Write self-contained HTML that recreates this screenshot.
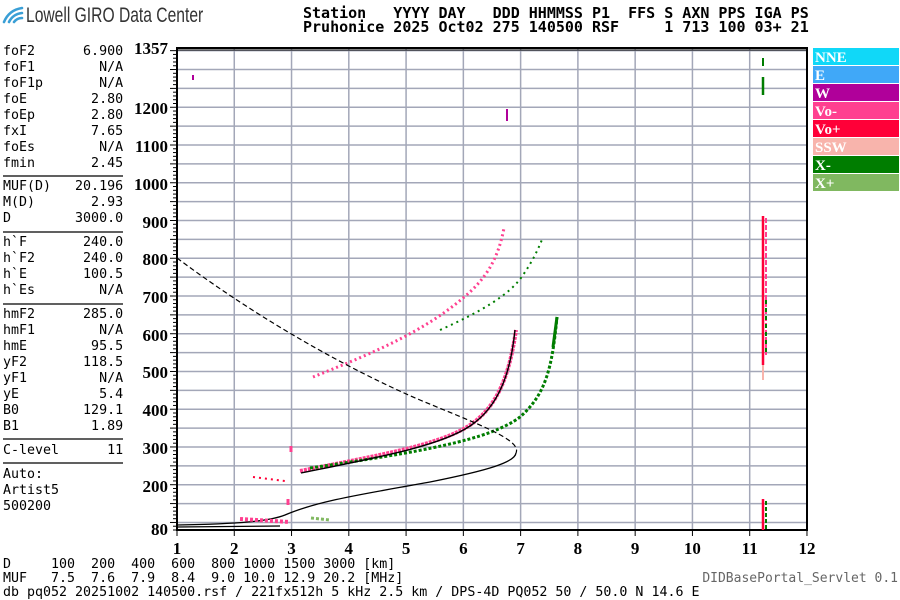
<!DOCTYPE html>
<html><head><meta charset="utf-8">
<style>
html,body{margin:0;padding:0;background:#fff;}
body{width:900px;height:600px;position:relative;overflow:hidden;font-family:"DejaVu Sans Mono","Liberation Mono",monospace;}
.m{position:absolute;white-space:pre;font-family:"DejaVu Sans Mono","Liberation Mono",monospace;color:#000;}
</style></head><body>
<svg width="900" height="600" style="position:absolute;left:0;top:0" xmlns="http://www.w3.org/2000/svg">
<g fill="none" stroke="#3a9fd6" stroke-width="2.6" stroke-linecap="round">
<path d="M4 22 Q9 10 22 8"/><path d="M9 22 Q13 14 22 13"/><path d="M14 22 Q17 18 22 18"/>
</g>
<text x="26" y="22" font-family="Liberation Sans, sans-serif" font-size="21" fill="#333" transform="translate(26 0) scale(0.745 1) translate(-26 0)">Lowell GIRO Data Center</text>

<g stroke="#a3a7b8" stroke-width="1.5" id="grid"></g>
<g id="ticks" stroke="#000" stroke-width="1"></g>
<rect x="177" y="48" width="630" height="482" fill="none" stroke="#000" stroke-width="2"/>
<line x1="177" y1="50" x2="807" y2="50" stroke="#000" stroke-width="1"/>

<g font-family="Liberation Serif, serif" font-weight="bold" font-size="17" text-anchor="end">
<text x="168" y="54">1357</text>
<text x="168" y="114">1200</text><text x="168" y="152">1100</text><text x="168" y="190">1000</text>
<text x="168" y="228">900</text><text x="168" y="265">800</text><text x="168" y="303">700</text>
<text x="168" y="341">600</text><text x="168" y="378">500</text><text x="168" y="416">400</text>
<text x="168" y="454">300</text><text x="168" y="492">200</text><text x="168" y="535">80</text>
</g>
<g font-family="Liberation Serif, serif" font-weight="bold" font-size="17" text-anchor="middle" id="xl"></g>

<g fill="none">
<path d="M300,471 C380,455 440,445 470,425 C500,405 510,370 516,330" stroke="#ff4090" stroke-width="4" stroke-dasharray="3 1"/>
<path d="M310,468 C420,452 490,440 520,417 C545,395 552,370 557,317" stroke="#007d00" stroke-width="3" stroke-dasharray="3 2"/>
<line x1="553" y1="347" x2="557" y2="317" stroke="#007d00" stroke-width="3"/>
<path d="M313,377 C360,358 420,335 463,298 C485,280 498,260 504,228" stroke="#ff4090" stroke-width="3" stroke-dasharray="2 3"/>
<path d="M440,330 C480,312 510,295 523,275 C532,262 538,250 543,237" stroke="#007d00" stroke-width="2" stroke-dasharray="2 4"/>
<path d="M301,473 C380,457 440,446 470,426 C500,406 511,370 515,330" stroke="#000" stroke-width="1.4"/>
<path d="M177,258 C260,320 350,370 420,400 C480,425 522,440 516,453" stroke="#000" stroke-width="1.2" stroke-dasharray="5 3"/>
<path d="M516,453 C515,462 490,470 430,482 C370,493 320,500 285,515 C270,521 240,524 177,525" stroke="#000" stroke-width="1.3"/>
<polyline points="177,527 280,526" stroke="#000" stroke-width="1.3"/>
<polyline points="240,519 290,522" stroke="#ff4090" stroke-width="4" stroke-dasharray="3 2"/>
<polyline points="311,518 330,520" stroke="#80b860" stroke-width="3" stroke-dasharray="3 2"/>
<polyline points="253,477 285,481" stroke="#ff0038" stroke-width="2" stroke-dasharray="2 4"/>
<line x1="291" y1="446" x2="291" y2="452" stroke="#ff4090" stroke-width="3"/>
<line x1="288" y1="499" x2="288" y2="505" stroke="#ff4090" stroke-width="3"/>
<line x1="763" y1="216" x2="763" y2="365" stroke="#ff0038" stroke-width="2.5"/>
<line x1="766" y1="218" x2="766" y2="355" stroke="#ff4090" stroke-width="2" stroke-dasharray="5 2"/>
<line x1="763" y1="365" x2="763" y2="380" stroke="#f8b4ac" stroke-width="2"/>
<line x1="766" y1="300" x2="766" y2="355" stroke="#007d00" stroke-width="2" stroke-dasharray="4 4"/>
<line x1="763" y1="499" x2="763" y2="530" stroke="#ff0038" stroke-width="2.5"/>
<line x1="766" y1="501" x2="766" y2="530" stroke="#007d00" stroke-width="2" stroke-dasharray="4 2"/>
<line x1="763" y1="58" x2="763" y2="66" stroke="#007d00" stroke-width="2"/>
<line x1="763" y1="77" x2="763" y2="95" stroke="#007d00" stroke-width="2.5"/>
<line x1="507" y1="109" x2="507" y2="121" stroke="#b0009a" stroke-width="2"/>
<rect x="192" y="75" width="2" height="5" fill="#b0009a"/>
</g>

<g font-family="Liberation Serif, serif" font-weight="bold" font-size="15" fill="#fff">
<rect x="813" y="48" width="86" height="17" fill="#10d8f8"/><text x="815" y="62">NNE</text>
<rect x="813" y="66" width="86" height="17" fill="#40a8f8"/><text x="815" y="80">E</text>
<rect x="813" y="84" width="86" height="17" fill="#b0009a"/><text x="815" y="98">W</text>
<rect x="813" y="102" width="86" height="17" fill="#ff4090"/><text x="815" y="116">Vo-</text>
<rect x="813" y="120" width="86" height="17" fill="#ff0038"/><text x="815" y="134">Vo+</text>
<rect x="813" y="138" width="86" height="17" fill="#f8b4ac"/><text x="815" y="152">SSW</text>
<rect x="813" y="156" width="86" height="17" fill="#007d00"/><text x="815" y="170">X-</text>
<rect x="813" y="174" width="86" height="17" fill="#80b860"/><text x="815" y="188">X+</text>
</g>
<g stroke="#000" stroke-width="1.2">
<line x1="3" y1="176" x2="123" y2="176"/><line x1="3" y1="232" x2="123" y2="232"/>
<line x1="3" y1="304" x2="123" y2="304"/><line x1="3" y1="439" x2="123" y2="439"/>
<line x1="3" y1="463" x2="123" y2="463"/>
</g>
</svg>

<div class="m" style="left:303px;top:6px;font-size:15px;font-weight:bold;line-height:14px;">Station   YYYY DAY   DDD HHMMSS P1  FFS S AXN PPS IGA PS
Pruhonice 2025 Oct02 275 140500 RSF     1 713 100 03+ 21</div>

<div class="m" style="left:3px;top:44px;font-size:13.3px;line-height:16px;">foF2      6.900
foF1        N/A
foF1p       N/A
foE        2.80
foEp       2.80
fxI        7.65
foEs        N/A
fmin       2.45</div>
<div class="m" style="left:3px;top:179px;font-size:13.3px;line-height:16px;">MUF(D)   20.196
M(D)       2.93
D        3000.0</div>
<div class="m" style="left:3px;top:235px;font-size:13.3px;line-height:16px;">h`F       240.0
h`F2      240.0
h`E       100.5
h`Es        N/A</div>
<div class="m" style="left:3px;top:307px;font-size:13.3px;line-height:16px;">hmF2      285.0
hmF1        N/A
hmE        95.5
yF2       118.5
yF1         N/A
yE          5.4
B0        129.1
B1         1.89</div>
<div class="m" style="left:3px;top:443px;font-size:13.3px;line-height:16px;">C-level      11</div>
<div class="m" style="left:3px;top:467px;font-size:13.3px;line-height:16px;">Auto:
Artist5
500200</div>

<div class="m" style="left:3px;top:558px;font-size:13.3px;line-height:14px;">D     100  200  400  600  800 1000 1500 3000 [km]
MUF   7.5  7.6  7.9  8.4  9.0 10.0 12.9 20.2 [MHz]
db pq052 20251002 140500.rsf / 221fx512h 5 kHz 2.5 km / DPS-4D PQ052 50 / 50.0 N 14.6 E</div>
<div class="m" style="right:2px;top:571px;font-size:13px;color:#666;">DIDBasePortal_Servlet 0.1</div>

<script>
var ns="http://www.w3.org/2000/svg";
function X(f){return 177+(f-1)*57.27;}
function Y(h){return 530-(h-80)*0.37744;}
var g=document.getElementById("grid");
for(var f=2;f<=11;f++){var l=document.createElementNS(ns,"line");l.setAttribute("x1",X(f));l.setAttribute("x2",X(f));l.setAttribute("y1",48);l.setAttribute("y2",530);g.appendChild(l);}
for(var h=100;h<=1350;h+=50){var l=document.createElementNS(ns,"line");l.setAttribute("x1",177);l.setAttribute("x2",807);l.setAttribute("y1",Y(h));l.setAttribute("y2",Y(h));g.appendChild(l);}
var t=document.getElementById("ticks");
for(var h=80;h<=1357;h+=10){var l=document.createElementNS(ns,"line");var len=(h%50==0)?7:4;l.setAttribute("x1",177-len);l.setAttribute("x2",177);l.setAttribute("y1",Y(h));l.setAttribute("y2",Y(h));t.appendChild(l);}
for(var f=1;f<=12;f++){var l=document.createElementNS(ns,"line");l.setAttribute("x1",X(f));l.setAttribute("x2",X(f));l.setAttribute("y1",530);l.setAttribute("y2",536);t.appendChild(l);
var tx=document.createElementNS(ns,"text");tx.setAttribute("x",X(f));tx.setAttribute("y",554);tx.textContent=f;document.getElementById("xl").appendChild(tx);}
</script>
</body></html>
